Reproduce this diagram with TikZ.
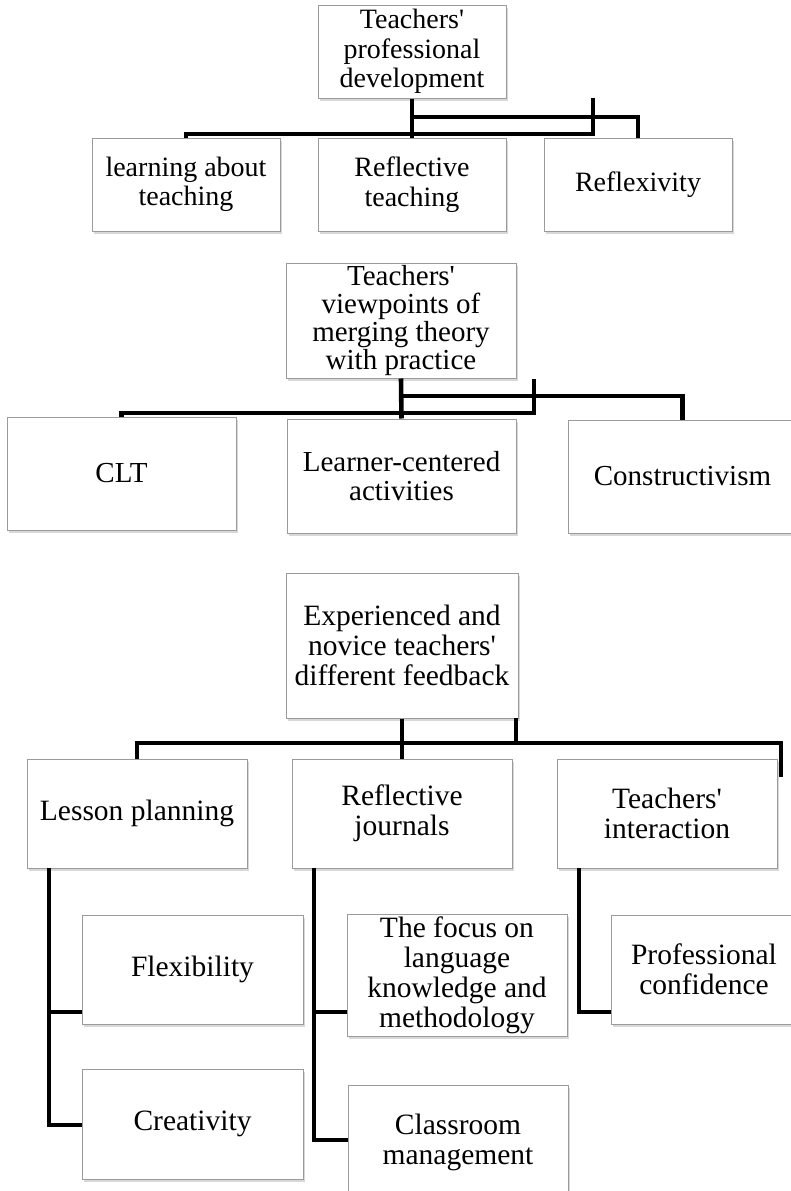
\documentclass[tikz,border=0pt]{standalone}
\usepackage{fontspec}
\setmainfont{Liberation Serif}[Ligatures=TeXOff]
\usetikzlibrary{shadows}
\begin{document}
\begin{tikzpicture}[x=1pt,y=-1pt,
  box/.style={draw={rgb,255:red,155;green,155;blue,155}, line width=1pt, fill=white,
    drop shadow={opacity=0.3, shadow xshift=1.5pt, shadow yshift=-2.5pt},
    align=center, inner sep=1pt,
    font=\fontsize{28}{29.5}\selectfont},
  lowbox/.style={box, font=\fontsize{29.5}{30}\selectfont},
  conn/.style={draw=black, line width=4.6pt, line join=miter}]
\useasboundingbox (0,0) rectangle (791,1191);
\fill[white] (0,0) rectangle (791,1191);

% ---------- section 1 ----------
\node[box, minimum width=188pt, minimum height=93pt] (A)  at (412,51.5)  {Teachers'\\professional\\development};
\node[box, minimum width=188pt, minimum height=93pt] (A1) at (186,184.5) {learning about\\teaching};
\node[box, minimum width=188pt, minimum height=93pt] (A2) at (412,184.5) {Reflective\\teaching};
\node[box, minimum width=188pt, minimum height=93pt] (A3) at (638,184.5) {Reflexivity};
\coordinate (a1) at (593,134);
\coordinate (a2) at (593,98);
\coordinate (a3) at (412,117);
\draw[conn] (A1.north) |- (a1) -- (a2);
\draw[conn] (A.south) -- (A2.north);
\draw[conn] (a3) -| (A3.north);

% ---------- section 2 ----------
\node[box, minimum width=230pt, minimum height=115pt, font=\fontsize{29}{28.3}\selectfont] (B)  at (401,320.5) {Teachers'\\viewpoints of\\merging theory\\with practice};
\node[box, minimum width=229pt, minimum height=113pt, font=\fontsize{29}{29.5}\selectfont] (B1) at (121.5,473.5) {CLT};
\node[box, minimum width=229pt, minimum height=114pt, font=\fontsize{29}{29.5}\selectfont] (B2) at (401.5,476) {Learner-centered\\activities};
\node[box, minimum width=229pt, minimum height=113pt, font=\fontsize{29}{29.5}\selectfont] (B3) at (682.5,476.5) {Constructivism};
\coordinate (b1) at (534,413);
\coordinate (b2) at (534,379);
\coordinate (b3) at (401,396);
\draw[conn] (B1.north) |- (b1) -- (b2);
\draw[conn] (B.south) -- (B2.north);
\draw[conn] (b3) -| (B3.north);

% ---------- section 3 ----------
\node[box, minimum width=232pt, minimum height=145pt, font=\fontsize{29.5}{30}\selectfont] (C)  at (402,645.5) {Experienced and\\novice teachers'\\different feedback};
\node[lowbox, minimum width=220pt, minimum height=109pt] (C1) at (137,813.5) {Lesson planning};
\node[lowbox, minimum width=220pt, minimum height=109pt] (C2) at (402,813.5) {Reflective\\journals};
\node[lowbox, minimum width=220pt, minimum height=109pt] (C3) at (667,813.5) {Teachers'\\interaction};
\coordinate (c1) at (781,743);
\coordinate (c2) at (781,777);
\coordinate (c3) at (516,718);
\coordinate (c4) at (516,743);
\draw[conn] (C1.north) |- (c1) -- (c2);
\draw[conn] (C.south) -- (C2.north);
\draw[conn] (c3) -- (c4);

% lesson planning branch
\node[lowbox, minimum width=221pt, minimum height=109pt] (D1) at (192.5,969.5) {Flexibility};
\node[lowbox, minimum width=221pt, minimum height=110pt] (D2) at (192.5,1124) {Creativity};
\coordinate (d0) at (49,868);
\coordinate (d1) at (49,1012);
\coordinate (d2) at (49,1125);
\draw[conn] (d0) -- (d2) -- (D2.west |- d2);
\draw[conn] (d1) -- (D1.west |- d1);

% reflective journals branch
\node[lowbox, minimum width=220pt, minimum height=122pt] (E1) at (457,975) {The focus on\\language\\knowledge and\\methodology};
\node[lowbox, minimum width=220pt, minimum height=115pt] (E2) at (458,1142.5) {Classroom\\management};
\coordinate (e0) at (314,868);
\coordinate (e1) at (314,1012);
\coordinate (e2) at (314,1140);
\draw[conn] (e0) -- (e2) -- (E2.west |- e2);
\draw[conn] (e1) -- (E1.west |- e1);

% teachers' interaction branch
\node[lowbox, minimum width=186pt, minimum height=109pt] (F1) at (704,969.5) {Professional\\confidence};
\coordinate (f0) at (579,868);
\coordinate (f1) at (579,1012);
\draw[conn] (f0) -- (f1) -- (F1.west |- f1);
\end{tikzpicture}
\end{document}
